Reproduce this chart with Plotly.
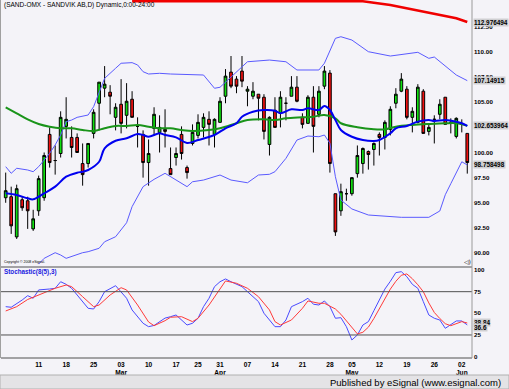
import plotly.graph_objects as go
import pandas as pd

# ---------------- data ----------------
holidays = ["2008-03-21", "2008-03-24", "2008-05-01"]
dates = [d.strftime("%Y-%m-%d") for d in pd.bdate_range("2008-02-01", "2008-06-03")
         if d.strftime("%Y-%m-%d") not in holidays]

opens = [95.5, 95.6, 91.6, 95.3, 95.2, 92.4, 94.2, 95.5, 101.8, 99.2,
         99.9, 102.6, 101.5, 101.5, 98.9, 98.9, 101.9, 104.9, 106.4, 106.0,
         103.5, 104.8, 103.7, 105.3, 102.6, 101.8, 99.0, 102.4, 102.0, 102.3,
         98.4, 99.5, 101.8, 98.5, 100.9, 101.7, 102.5, 103.3, 101.8, 103.0,
         105.6, 108.0, 107.3, 108.1, 106.1, 105.6, 105.8, 105.5, 100.8, 104.2,
         103.9, 104.9, 105.6, 106.5, 103.5, 102.9, 105.5, 103.8, 106.6, 107.9,
         95.9, 94.2, 95.9, 95.9, 97.9, 98.9, 100.1, 100.3, 101.8, 101.5,
         102.3, 104.9, 106.1, 106.3, 103.5, 103.0, 106.1, 102.1, 103.3, 103.8,
         105.5, 103.0, 101.6, 102.8, 101.9]
highs = [98.0, 96.6, 96.8, 95.6, 95.6, 94.3, 97.7, 100.0, 102.5, 100.7,
         104.1, 105.5, 102.6, 101.9, 100.9, 100.9, 104.3, 107.0, 108.6, 106.7,
         104.9, 107.3, 106.9, 106.1, 103.5, 102.2, 101.3, 104.5, 103.7, 104.3,
         100.5, 100.5, 102.6, 98.7, 102.8, 103.8, 103.9, 104.1, 103.4, 105.5,
         108.3, 109.6, 107.6, 109.6, 106.6, 107.0, 105.8, 105.8, 103.6, 105.5,
         106.1, 105.5, 107.6, 107.6, 103.9, 105.7, 106.6, 106.6, 108.6, 108.2,
         95.9, 96.9, 96.4, 97.5, 100.7, 100.5, 100.2, 101.0, 102.0, 103.2,
         104.6, 106.4, 107.9, 106.6, 104.5, 106.8, 106.3, 102.9, 103.7, 105.3,
         105.5, 103.4, 103.5, 103.3, 101.9]
lows = [95.0, 91.9, 91.4, 94.2, 92.4, 92.2, 93.7, 95.2, 98.5, 97.8,
        99.5, 101.4, 99.5, 100.0, 96.7, 98.5, 101.4, 102.2, 105.5, 103.8,
        102.2, 101.9, 102.4, 103.5, 100.5, 97.5, 96.7, 101.7, 100.0, 100.5,
        97.8, 98.7, 99.3, 97.4, 100.7, 101.4, 101.5, 100.7, 100.5, 103.0,
        104.9, 106.4, 105.9, 106.5, 104.6, 105.3, 103.2, 101.3, 99.7, 102.5,
        102.5, 103.2, 105.6, 105.0, 102.4, 102.9, 100.0, 103.5, 106.3, 98.0,
        91.7, 93.7, 95.2, 95.7, 97.5, 97.9, 98.3, 98.7, 99.7, 100.3,
        101.7, 104.4, 106.0, 103.3, 102.0, 102.9, 101.9, 101.7, 100.9, 103.3,
        102.8, 101.9, 101.4, 102.0, 97.9]
closes = [96.2, 92.7, 96.4, 94.5, 94.2, 93.4, 97.4, 99.7, 99.0, 99.2,
          103.5, 103.3, 100.5, 100.0, 97.8, 100.9, 104.0, 107.0, 106.8, 105.6,
          104.5, 102.9, 105.1, 103.5, 102.6, 99.0, 99.9, 103.8, 102.5, 102.1,
          97.8, 99.9, 99.9, 98.0, 102.0, 103.0, 103.5, 102.8, 103.3, 105.1,
          107.6, 106.6, 106.6, 107.1, 106.3, 106.1, 105.4, 102.1, 103.5, 102.5,
          105.5, 104.9, 106.5, 105.1, 102.8, 105.5, 102.6, 106.1, 108.1, 98.9,
          92.1, 96.1, 95.9, 97.5, 99.7, 100.4, 99.8, 100.9, 101.5, 103.0,
          104.3, 105.8, 107.3, 103.5, 104.1, 106.5, 101.9, 102.5, 103.3, 104.8,
          102.8, 103.0, 103.4, 102.8, 99.0]

# moving averages / bands (bar index, value)
ma_fast_idx = [0, 2, 4, 5, 7, 9, 11, 13, 14, 15, 17, 18, 20, 22, 24, 25, 26, 28, 29, 31,
               33, 35, 38, 40, 42, 43, 45, 47, 49, 50, 52, 54, 55, 57, 58, 59, 60, 61, 63, 65,
               67, 68, 70, 71, 73, 75, 77, 78, 80, 82, 83, 84]
ma_fast = [95.94, 95.77, 95.44, 95.34, 95.94, 96.60, 97.59, 97.99, 98.09, 98.26, 99.08, 100.42,
           101.17, 101.41, 101.84, 101.74, 101.57, 101.91, 101.74, 101.51, 100.95, 101.24, 101.74,
           102.41, 102.91, 103.56, 104.06, 104.23, 104.16, 103.90, 104.30, 104.23, 104.40, 104.23,
           104.63, 104.23, 103.23, 102.24, 101.57, 101.24, 101.14, 101.24, 101.91, 102.41, 102.64,
           103.07, 103.23, 103.13, 103.23, 103.07, 102.91, 102.64]

ma_slow_idx = [0, 2, 4, 6, 8, 10, 12, 14, 16, 18, 20, 22, 24, 26, 28, 30, 32, 34, 37, 39,
               42, 44, 47, 49, 51, 54, 56, 58, 60, 61, 64, 67, 69, 71, 74, 77, 80, 82, 84]
ma_slow = [104.50, 103.90, 103.30, 102.84, 102.57, 102.41, 102.41, 102.24, 102.14, 102.41,
           102.64, 102.64, 102.74, 102.57, 102.41, 102.41, 102.24, 102.14, 102.24, 102.41,
           102.91, 103.23, 103.30, 103.23, 103.40, 103.50, 103.56, 103.73, 103.40, 102.91,
           102.51, 102.31, 102.31, 102.57, 102.74, 102.84, 102.91, 102.91, 102.65]

bb_up_idx = [0, 1, 2, 4, 5, 6, 7, 8, 9, 10, 11, 12, 13, 15, 16, 17, 18, 20, 21, 23,
             24, 25, 26, 28, 30, 36, 38, 39, 43, 44, 48, 51, 53, 57, 58, 60, 61, 63, 66, 70,
             75, 77, 78, 80, 82, 84]
bb_up = [98.59, 97.93, 98.43, 98.26, 98.09, 98.59, 99.25, 99.92, 100.75, 101.74,
         103.07, 103.23, 103.50, 103.73, 104.56, 106.05, 107.38, 108.38, 108.88, 108.94,
         108.71, 108.04, 107.81, 107.88, 107.81, 107.71, 106.39, 106.49, 108.54, 109.03,
         109.20, 109.03, 108.21, 108.21, 108.88, 111.36, 111.52, 111.19, 110.03, 109.60,
         109.97, 109.37, 109.50, 108.61, 107.71, 107.15]

bb_lo_idx = [6, 7, 9, 10, 11, 14, 15, 17, 18, 20, 22, 23, 25, 27, 29, 30, 33, 34, 36, 39,
             41, 44, 46, 48, 49, 51, 53, 55, 57, 58, 59, 60, 61, 63, 66, 72, 77, 79, 80, 81,
             83, 84]
bb_lo = [88.90, 89.47, 90.03, 89.80, 89.47, 90.03, 90.13, 90.47, 91.12, 91.62,
         93.01, 94.61, 96.60, 97.33, 97.93, 97.59, 96.60, 97.09, 97.26, 97.76,
         97.26, 96.99, 97.76, 97.83, 98.09, 99.42, 101.24, 101.64, 101.57, 101.74,
         100.92, 97.59, 95.27, 94.38, 93.78, 93.55, 93.55, 94.18, 95.80, 96.90,
         99.08, 98.76]

ma_long_idx = [23, 65, 70, 73, 76, 79, 82, 84]
ma_long = [115.05, 115.05, 114.68, 114.35, 114.01, 113.68, 113.35, 112.98]

stk_idx = [0, 1, 3, 4, 5, 6, 8, 9, 10, 11, 12, 13, 15, 16, 17, 18, 20, 22, 23, 25,
           26, 27, 29, 30, 31, 33, 34, 35, 36, 37, 38, 39, 40, 41, 43, 44, 46, 47, 48, 49,
           50, 51, 52, 54, 55, 56, 57, 58, 59, 60, 61, 62, 63, 64, 65, 66, 67, 68, 69, 70,
           71, 72, 73, 74, 75, 76, 77, 78, 79, 80, 81, 82, 83, 84]
stoch_k = [57.7, 57.0, 65.4, 70.4, 67.4, 77.0, 78.1, 78.9, 86.5, 83.5, 78.9, 71.2, 55.8, 55.0,
           63.5, 75.0, 81.9, 67.4, 53.9, 38.5, 34.6, 36.0, 44.5, 46.1, 48.1, 36.5, 38.5, 44.3,
           57.7, 67.4, 80.8, 86.5, 89.7, 86.5, 80.8, 75.0, 63.5, 50.1, 42.3, 34.6, 34.6, 42.3,
           57.7, 63.5, 67.4, 60.5, 59.6, 64.3, 57.7, 44.3, 45.0, 34.6, 19.2, 25.0, 36.5, 40.4,
           53.0, 66.0, 78.0, 87.0, 97.0, 98.1, 92.3, 83.5, 78.9, 63.5, 48.1, 44.3, 42.3, 32.7,
           36.5, 41.2, 41.2, 36.6]

std_idx = [0, 2, 4, 7, 9, 11, 12, 14, 16, 17, 19, 21, 22, 24, 26, 27, 29, 30, 32, 34,
           35, 37, 39, 40, 42, 44, 46, 48, 49, 50, 52, 54, 55, 57, 58, 60, 61, 63, 64, 65,
           66, 67, 68, 69, 70, 71, 72, 73, 74, 75, 76, 77, 78, 79, 80, 81, 82, 83, 84]
stoch_d = [52.7, 57.7, 66.0, 74.3, 78.9, 82.7, 80.8, 69.2, 57.7, 59.6, 71.2, 79.6, 77.0, 59.6,
           40.0, 35.7, 41.5, 45.5, 46.1, 40.4, 44.3, 59.6, 78.9, 87.4, 84.7, 78.9, 69.2, 53.9,
           40.4, 36.5, 42.3, 55.8, 64.3, 61.6, 61.6, 55.0, 48.9, 34.6, 26.2, 28.1, 34.0, 44.0,
           55.0, 67.0, 78.0, 87.0, 94.0, 95.5, 90.0, 83.0, 75.0, 62.0, 51.0, 44.0, 38.0, 35.7,
           38.5, 40.4, 38.84]

tick_dates = ["2008-02-11", "2008-02-18", "2008-02-25", "2008-03-03", "2008-03-10",
              "2008-03-17", "2008-03-25", "2008-03-31", "2008-04-07", "2008-04-14",
              "2008-04-21", "2008-04-28", "2008-05-05", "2008-05-12", "2008-05-19",
              "2008-05-26", "2008-06-02"]
tick_text = ["11", "18", "25", "03<br>Mar", "10", "17", "25", "31<br>Apr", "07", "14",
             "21", "28", "05<br>May", "12", "19", "26", "02<br>Jun"]

# 102.50 is fully hidden behind the 102.653964 value box in the reference
price_ticks = [90.0, 92.5, 95.0, 97.5, 100.0, 105.0, 107.5, 110.0, 112.5]
stoch_ticks = [0, 25, 50, 75, 100]
stoch_levels = [75, 25]

price_value_labels = [(112.976494, "112.976494"), (107.14915, "107.14915"),
                      (102.653964, "102.653964"), (98.758498, "98.758498")]
stoch_value_labels = [(38.84, "38.84", 0), (36.69, "36.6", -3)]

# ---------------- figure ----------------
W, H = 509, 389
L, R, T, B = 1, 472, 0, 358          # plot area in pixels
SEP = 267                            # separator between panels


def px(xp):
    return (xp - L) / (R - L)


def py(yp):
    return (B - yp) / (B - T)


FONT = "Arial, Liberation Sans, sans-serif"
BG = "#F4F3F8"
xi = list(range(len(dates)))

fig = go.Figure()
fig.add_trace(go.Candlestick(
    x=xi, open=opens, high=highs, low=lows, close=closes,
    increasing=dict(line=dict(color="black", width=1), fillcolor="#10E010"),
    decreasing=dict(line=dict(color="black", width=1), fillcolor="#F01010"),
    whiskerwidth=0, showlegend=False, hoverinfo="skip", xaxis="x", yaxis="y"))

fig.add_trace(go.Scatter(x=bb_up_idx, y=bb_up, mode="lines",
                         line=dict(color="#5A5AFF", width=1), xaxis="x", yaxis="y"))
fig.add_trace(go.Scatter(x=bb_lo_idx, y=bb_lo, mode="lines",
                         line=dict(color="#5A5AFF", width=1), xaxis="x", yaxis="y"))
fig.add_trace(go.Scatter(x=ma_slow_idx, y=ma_slow, mode="lines", line_shape="spline",
                         line=dict(color="#1A941A", width=2), xaxis="x", yaxis="y"))
fig.add_trace(go.Scatter(x=ma_fast_idx, y=ma_fast, mode="lines", line_shape="spline",
                         line=dict(color="#0000F0", width=2), xaxis="x", yaxis="y"))
fig.add_trace(go.Scatter(x=ma_long_idx, y=ma_long, mode="lines",
                         line=dict(color="#F00000", width=2.5), xaxis="x", yaxis="y"))

fig.add_trace(go.Scatter(x=stk_idx, y=stoch_k, mode="lines",
                         line=dict(color="#4A4AFF", width=1), xaxis="x2", yaxis="y2"))
fig.add_trace(go.Scatter(x=std_idx, y=stoch_d, mode="lines",
                         line=dict(color="#FF3A3A", width=1), xaxis="x2", yaxis="y2"))

xr = [(L - 5.7) / 5.495, (R - 5.7) / 5.495]
tickvals = [dates.index(d) for d in tick_dates]
lblfont = dict(family=FONT, size=6.2, color="black", weight="bold")
boxfont = dict(family=FONT, size=6.4, color="black", weight="bold")

fig.update_layout(
    width=W, height=H, margin=dict(l=L, r=W - R, t=T, b=H - B, pad=0),
    paper_bgcolor=BG, plot_bgcolor=BG, showlegend=False,
    xaxis=dict(domain=[0, 1], range=xr, anchor="y", showticklabels=False, showgrid=False,
               zeroline=False, rangeslider=dict(visible=False), fixedrange=True),
    yaxis=dict(domain=[py(SEP), 1], range=[100 - (SEP - 152.5) / 10.05, 100 + 152.5 / 10.05],
               side="right", tickvals=price_ticks, ticktext=["%.2f" % v for v in price_ticks],
               tickfont=lblfont, showgrid=False, zeroline=False, ticks="", ticklabelstandoff=1),
    xaxis2=dict(domain=[0, 1], range=xr, anchor="y2", tickvals=tickvals, ticktext=tick_text,
                tickfont=dict(family=FONT, size=6.6, color="black", weight="bold"),
                showgrid=False, zeroline=False, ticks="", tickangle=0, ticklabelstandoff=1),
    yaxis2=dict(domain=[0, py(SEP)], range=[-1.6, 103.5], side="right", tickvals=stoch_ticks,
                tickfont=lblfont, showgrid=False, zeroline=False, ticks="", ticklabelstandoff=1),
)

shapes = []
for lv in stoch_levels:
    shapes.append(dict(type="line", xref="paper", yref="y2", x0=0, x1=1, y0=lv, y1=lv,
                       line=dict(color="#505050", width=1)))
shapes.append(dict(type="line", xref="paper", yref="paper", x0=0, x1=1, y0=py(SEP), y1=py(SEP),
                   line=dict(color="#505050", width=1)))
shapes.append(dict(type="line", xref="paper", yref="paper", x0=0, x1=1, y0=0, y1=0,
                   line=dict(color="#505050", width=1)))
shapes.append(dict(type="line", xref="paper", yref="paper", x0=1, x1=1, y0=0, y1=1,
                   line=dict(color="#9A9A9A", width=1)))
shapes.append(dict(type="line", xref="paper", yref="paper", x0=px(0.5), x1=px(0.5), y0=0, y1=1,
                   line=dict(color="#A0A0A0", width=1)))
shapes.append(dict(type="rect", xref="paper", yref="paper", x0=px(0), x1=px(W), y0=py(H),
                   y1=py(375), fillcolor="#E4E3E6", line=dict(color="#B0B0B0", width=1)))
fig.update_layout(shapes=shapes)

ann = []
ann.append(dict(xref="paper", yref="paper", x=px(2), y=py(5), xanchor="left", yanchor="middle",
                text="(SAND-OMX - SANDVIK AB,D) Dynamic,0:00-24:00", showarrow=False,
                font=dict(family=FONT, size=6.5, color="black")))
ann.append(dict(xref="paper", yref="paper", x=px(2), y=py(262), xanchor="left", yanchor="middle",
                text="Copyright © 2008 eSignal.", showarrow=False,
                font=dict(family=FONT, size=3.5, color="black")))
ann.append(dict(xref="paper", yref="paper", x=px(2), y=py(272), xanchor="left", yanchor="middle",
                text="Stochastic(8(5),3)", showarrow=False,
                font=dict(family=FONT, size=6.3, color="#2020E0", weight="bold")))
ann.append(dict(xref="paper", yref="paper", x=px(467), y=py(261), xanchor="center",
                yanchor="middle", text="◁)", showarrow=False,
                font=dict(family="DejaVu Sans, sans-serif", size=6, color="black")))
ann.append(dict(xref="paper", yref="paper", x=px(503), y=py(382), xanchor="right",
                yanchor="middle", text="Published by eSignal (www.esignal.com)", showarrow=False,
                font=dict(family=FONT, size=9.5, color="black")))
for v, t in price_value_labels:
    ann.append(dict(xref="paper", yref="y", x=px(473), y=v, xanchor="left", yanchor="middle",
                    text=t, showarrow=False, bgcolor="#CFCFD2", borderpad=0, font=boxfont))
for v, t, sh in stoch_value_labels:
    ann.append(dict(xref="paper", yref="y2", x=px(473), y=v, yshift=sh, xanchor="left",
                    yanchor="middle", text=t, showarrow=False, bgcolor="#CFCFD2", borderpad=0,
                    font=boxfont))
fig.update_layout(annotations=ann)

fig.write_html("out.html", config={"displayModeBar": False},
               post_script="document.body.style.margin='0';"
                           "document.body.style.background='" + BG + "';")
